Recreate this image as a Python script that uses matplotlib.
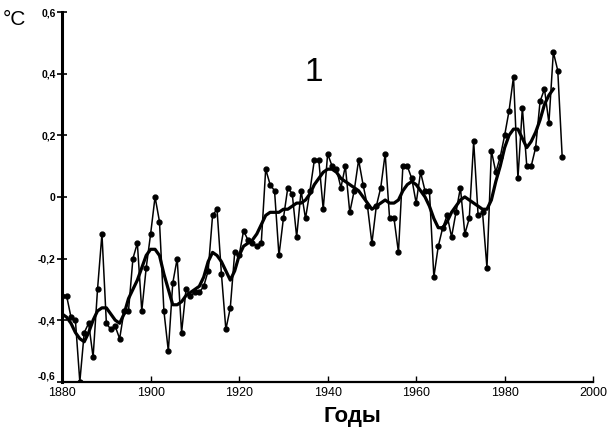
import matplotlib
matplotlib.use("Agg")
import matplotlib.pyplot as plt

years = list(range(1880, 1994))
annual = [
    -0.32, -0.32, -0.39, -0.40, -0.60, -0.44, -0.41, -0.52, -0.30, -0.12,   # 1880-1889
    -0.41, -0.43, -0.42, -0.46, -0.37, -0.37, -0.20, -0.15, -0.37, -0.23,   # 1890-1899
    -0.12, 0.00, -0.08, -0.37, -0.50, -0.28, -0.20, -0.44, -0.30, -0.32,    # 1900-1909
    -0.31, -0.31, -0.29, -0.24, -0.06, -0.04, -0.25, -0.43, -0.36, -0.18,   # 1910-1919
    -0.19, -0.11, -0.14, -0.15, -0.16, -0.15, 0.09, 0.04, 0.02, -0.19,      # 1920-1929
    -0.07, 0.03, 0.01, -0.13, 0.02, -0.07, 0.02, 0.12, 0.12, -0.04,         # 1930-1939
    0.14, 0.10, 0.09, 0.03, 0.10, -0.05, 0.02, 0.12, 0.04, -0.03,           # 1940-1949
    -0.15, -0.03, 0.03, 0.14, -0.07, -0.07, -0.18, 0.10, 0.10, 0.06,        # 1950-1959
    -0.02, 0.08, 0.02, 0.02, -0.26, -0.16, -0.10, -0.06, -0.13, -0.05,      # 1960-1969
    0.03, -0.12, -0.07, 0.18, -0.06, -0.05, -0.23, 0.15, 0.08, 0.13,        # 1970-1979
    0.20, 0.28, 0.39, 0.06, 0.29, 0.10, 0.10, 0.16, 0.31, 0.35,             # 1980-1989
    0.24, 0.47, 0.41, 0.13,                                                 # 1990-1993
]

smooth_years = list(range(1880, 1992))
smooth = [
    -0.38, -0.39, -0.41, -0.44, -0.46, -0.47, -0.44, -0.40, -0.37, -0.36,   # 1880-1889
    -0.36, -0.38, -0.40, -0.41, -0.38, -0.33, -0.30, -0.27, -0.23, -0.19,   # 1890-1899
    -0.17, -0.17, -0.19, -0.25, -0.30, -0.35, -0.35, -0.34, -0.32, -0.31,   # 1900-1909
    -0.30, -0.29, -0.26, -0.21, -0.18, -0.19, -0.21, -0.24, -0.27, -0.24,   # 1910-1919
    -0.19, -0.16, -0.15, -0.14, -0.12, -0.09, -0.06, -0.05, -0.05, -0.05,   # 1920-1929
    -0.04, -0.04, -0.03, -0.02, -0.02, -0.01, 0.01, 0.04, 0.06, 0.08,       # 1930-1939
    0.09, 0.09, 0.08, 0.06, 0.05, 0.04, 0.03, 0.02, 0.00, -0.02,            # 1940-1949
    -0.04, -0.03, -0.02, -0.01, -0.02, -0.02, -0.01, 0.02, 0.04, 0.05,      # 1950-1959
    0.04, 0.02, 0.00, -0.03, -0.07, -0.10, -0.10, -0.08, -0.05, -0.03,      # 1960-1969
    -0.01, 0.00, -0.01, -0.02, -0.03, -0.04, -0.04, -0.01, 0.05, 0.10,      # 1970-1979
    0.16, 0.20, 0.22, 0.22, 0.19, 0.16, 0.18, 0.21, 0.25, 0.30,             # 1980-1989
    0.33, 0.35,                                                             # 1990-1991
]

xticks = [1880, 1900, 1920, 1940, 1960, 1980, 2000]
yticks = [-0.6, -0.4, -0.2, 0.0, 0.2, 0.4, 0.6]
ytick_labels = ["-0,6", "-0,4", "-0,2", "0", "0,2", "0,4", "0,6"]

plt.rcParams['font.family'] = ['Liberation Sans', 'DejaVu Sans']

fig = plt.figure(figsize=(6.09, 4.29), dpi=100)
ax = fig.add_axes([0.102, 0.110, 0.872, 0.862])

ax.plot(years, annual, color='black', lw=1.1, marker='o', ms=3.5,
        markerfacecolor='black', markeredgecolor='black')
ax.plot(smooth_years, smooth, color='black', lw=2.3)

ax.set_xlim(1880, 2000)
ax.set_ylim(-0.6, 0.6)
ax.set_xticks(xticks)
ax.set_xticklabels([str(v) for v in xticks], fontsize=9)
ax.set_yticks(yticks)
ax.set_yticklabels(ytick_labels, fontsize=7.5, fontweight='bold')
# nudge the lowest y label up a bit, as in the reference, so it clears "1880"
ylabs = ax.get_yticklabels()
ylabs[0].set_verticalalignment('bottom')

for s in ['top', 'right']:
    ax.spines[s].set_visible(False)
ax.spines['left'].set_linewidth(2.2)
ax.spines['bottom'].set_linewidth(1.6)
ax.tick_params(axis='y', direction='inout', length=7, width=1.2, pad=1)
ax.tick_params(axis='x', direction='in', length=4, width=1.0, pad=4)

fig.text(0.005, 0.955, "°C", fontsize=15, ha='left', va='center')
fig.text(0.515, 0.83, "1", fontsize=24, ha='center', va='center')
fig.text(0.578, 0.030, "Годы", fontsize=16, fontweight='bold', ha='center', va='center')

fig.savefig("out.png", dpi=100)
